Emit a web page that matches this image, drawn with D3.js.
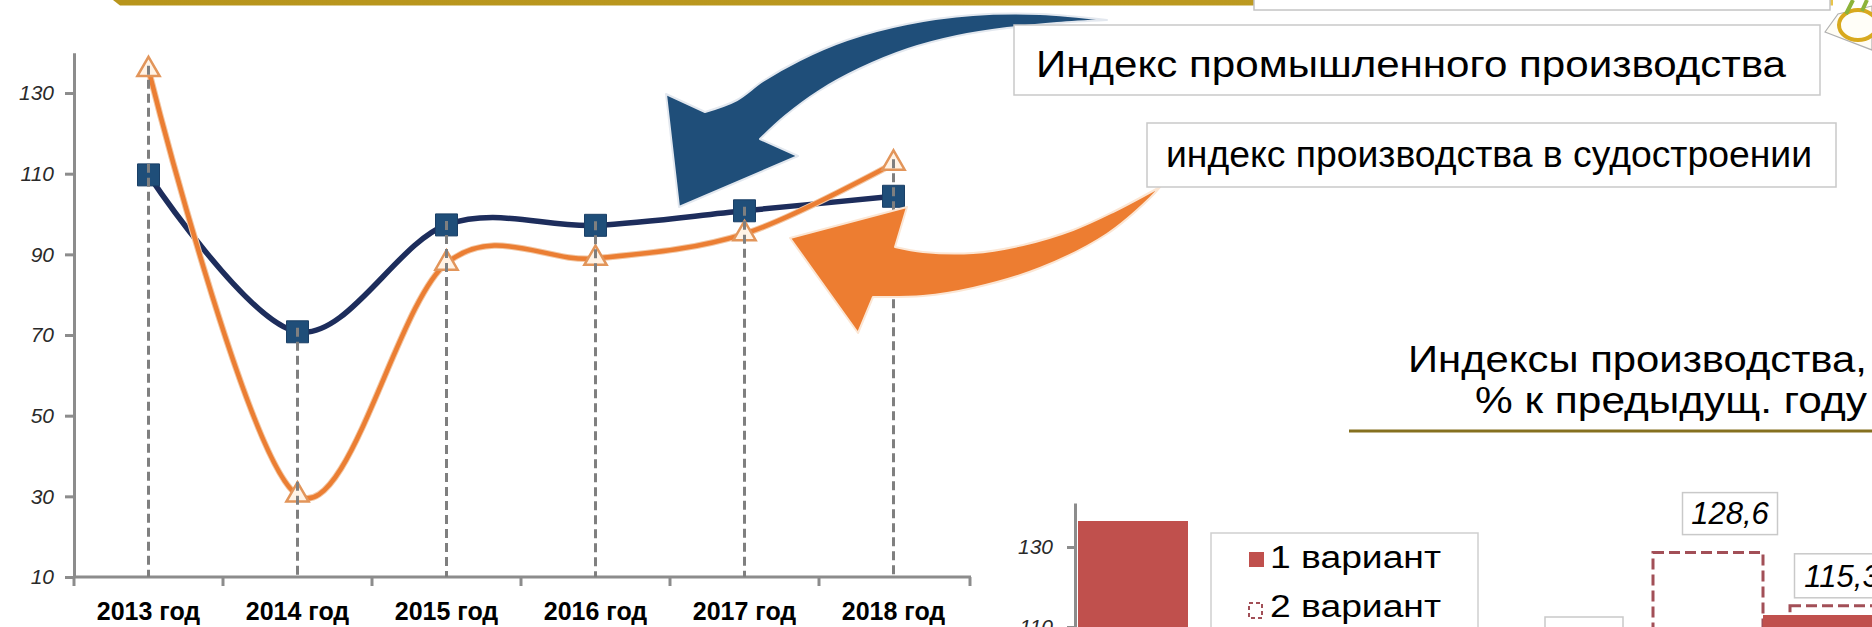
<!DOCTYPE html>
<html><head><meta charset="utf-8">
<script src="https://cdn.jsdelivr.net/npm/d3@7"></script>
<style>html,body{margin:0;padding:0;background:#fff;overflow:hidden}</style>
</head><body>
<svg id="c" width="1872" height="627" xmlns="http://www.w3.org/2000/svg"></svg>
<script>
// ---------- data ----------
const years = ["2013 год", "2014 год", "2015 год", "2016 год", "2017 год", "2018 год"];
const industrialIndex = [109.7, 70.8, 97.3, 97.2, 100.8, 104.4];
const shipbuildingIndex = [135.8, 30.3, 87.8, 89.0, 95.1, 112.6];
const leftTicks = [10, 30, 50, 70, 90, 110, 130];
const seriesNames = ["Индекс  промышленного  производства", "индекс производства в судостроении"];

const barCategories = ["2013", "2014", "2015", "2016", "2017", "2018"];
const variant1 = [136.5, null, null, null, null, 113.0];
const variant2 = [null, null, null, null, 128.6, 115.3];
const barTicks = [110, 130];
const legendNames = ["1 вариант", "2 вариант"];
const barTitle = ["Индексы  производства,", "% к предыдущ.  году"];

// ---------- setup ----------
const FONT = "'Liberation Sans', Arial, sans-serif";
const svg = d3.select("#c").style("font-family", FONT);
const defs = svg.append("defs");
const gg = defs.append("linearGradient").attr("id", "gold").attr("x1", "0").attr("x2", "1");
gg.append("stop").attr("offset", "0").attr("stop-color", "#B8951C");
gg.append("stop").attr("offset", "0.93").attr("stop-color", "#BE9B22");
gg.append("stop").attr("offset", "1").attr("stop-color", "#E9C54A");

// top decoration
svg.append("path").attr("d", "M113,0L1833,0L1833,5.5L120,5.5Z").attr("fill", "url(#gold)");
svg.append("rect").attr("x", 1254).attr("y", -10).attr("width", 576).attr("height", 20)
  .attr("fill", "#fff").attr("stroke", "#c4c4c4").attr("stroke-width", 1.5);
svg.append("path").attr("d", "M1825,32L1838,14L1872,6L1872,50Z").attr("fill", "#fffdf5").attr("stroke", "#b0b0b0").attr("stroke-width", 1.2);
svg.append("ellipse").attr("cx", 1858).attr("cy", 25).attr("rx", 19).attr("ry", 15)
  .attr("fill", "#fffef8").attr("stroke", "#D8A91E").attr("stroke-width", 4);
svg.append("path").attr("d", "M1846,14L1853,0M1862,11L1867,0").attr("stroke", "#8DB33A").attr("stroke-width", 4).attr("fill", "none");

// ---------- left line chart ----------
const x = d3.scaleBand().domain(years).range([74, 968]).padding(0);
const y = d3.scaleLinear().domain([10, 140]).range([577, 52.7]);
const cx = d => x(d) + x.bandwidth() / 2;
const AXC = "#8c8c8c";

const yAx = svg.append("g").attr("transform", "translate(74,0)")
  .call(d3.axisLeft(y).tickValues(leftTicks).tickSize(9).tickSizeOuter(0).tickPadding(11));
yAx.select(".domain").attr("stroke", AXC).attr("stroke-width", 3);
yAx.selectAll(".tick line").attr("stroke", AXC).attr("stroke-width", 3);
yAx.selectAll(".tick text").attr("font-family", FONT).attr("font-size", 21).attr("font-style", "italic")
  .attr("fill", "#2a2a2a").attr("font-weight", 300);

const xAx = svg.append("g").attr("transform", "translate(0,577)")
  .call(d3.axisBottom(x).tickSize(0).tickSizeOuter(0).tickPadding(25));
xAx.select(".domain").attr("stroke", AXC).attr("stroke-width", 3).attr("d", "M74,0H971");
xAx.selectAll(".tick text").attr("font-family", FONT).attr("font-size", 25).attr("font-weight", "bold").attr("fill", "#000");
const bounds = years.map(d => x(d)).concat([970]);
svg.append("g").selectAll("line").data(bounds).join("line")
  .attr("x1", d => d).attr("x2", d => d).attr("y1", 577).attr("y2", 586)
  .attr("stroke", AXC).attr("stroke-width", 3);

const line = d3.line().x((d, i) => cx(years[i])).y(d => y(d)).curve(d3.curveCardinal.tension(0));
svg.append("path").attr("d", line(industrialIndex)).attr("fill", "none")
  .attr("stroke", "#1D2D5C").attr("stroke-width", 5.5).attr("stroke-linejoin", "round");
svg.append("path").attr("d", line(shipbuildingIndex)).attr("fill", "none")
  .attr("stroke", "#F2C7A4").attr("stroke-width", 6.5).attr("stroke-linejoin", "round");
svg.append("path").attr("d", line(shipbuildingIndex)).attr("fill", "none")
  .attr("stroke", "#EB7E33").attr("stroke-width", 4.5).attr("stroke-linejoin", "round");

svg.append("g").selectAll("path").data(industrialIndex).join("path")
  .attr("d", d3.symbol(d3.symbolSquare, 484))
  .attr("transform", (d, i) => `translate(${cx(years[i])},${y(d)})`)
  .attr("fill", "#1F4E79").attr("stroke", "#1a3f66").attr("stroke-width", 1);
svg.append("g").selectAll("path").data(shipbuildingIndex).join("path")
  .attr("d", d3.symbol(d3.symbolTriangle, 215))
  .attr("transform", (d, i) => `translate(${cx(years[i])},${y(d)})`)
  .attr("fill", "#FFF3E6").attr("stroke", "#E2955A").attr("stroke-width", 2.5);

// drop lines
svg.append("g").selectAll("line").data(years).join("line")
  .attr("x1", d => cx(d)).attr("x2", d => cx(d))
  .attr("y1", (d, i) => y(Math.max(industrialIndex[i], shipbuildingIndex[i])) - 4)
  .attr("y2", 577)
  .attr("stroke", "#7f7f7f").attr("stroke-width", 3).attr("stroke-dasharray", "9,5");

// ---------- arrows ----------
const smooth = (pts, first) => {
  const s = d3.line().curve(d3.curveCatmullRom.alpha(0.5))(pts);
  return first ? s : s.replace(/^M/, "L");
};
const blueOuter = [[1107,20],[1040,14],[973,15],[907,24],[847,40],[800,60],[763,81],[737,100],[705,112]];
const blueHead = [[666,94],[679,207],[798,156],[760,139]];
const blueInner = [[760,139],[785,116],[819,91],[859,69],[908,49],[957,36],[1007,28],[1057,23],[1107,20]];
svg.append("path")
  .attr("d", smooth(blueOuter, true) + blueHead.map(p => "L" + p).join("") + smooth(blueInner, false) + "Z")
  .attr("fill", "#1F4E79").attr("stroke", "#e3e8ef").attr("stroke-width", 2).attr("stroke-linejoin", "round");

const orUpper = [[1160,187],[1113,212],[1073,230],[1023,245],[973,253],[923,252],[895,247]];
const orHead = [[907,207],[790,238],[858,333],[873,297]];
const orLower = [[873,297],[923,296],[973,288],[1040,268],[1107,234],[1150,198],[1160,187]];
svg.append("path")
  .attr("d", smooth(orUpper, true) + orHead.map(p => "L" + p).join("") + smooth(orLower, false) + "Z")
  .attr("fill", "#ED7D31").attr("stroke", "#fbe6d4").attr("stroke-width", 2).attr("stroke-linejoin", "round");

// series label boxes
const boxes = [
  {x: 1014, y: 25, w: 806, h: 70, tx: 1036, ty: 77, tl: 750},
  {x: 1147, y: 123, w: 689, h: 64, tx: 1166, ty: 167, tl: 646}
];
boxes.forEach((b, i) => {
  svg.append("rect").attr("x", b.x).attr("y", b.y).attr("width", b.w).attr("height", b.h)
    .attr("fill", "#fff").attr("stroke", "#c9c9c9").attr("stroke-width", 1.5);
  svg.append("text").attr("x", b.tx).attr("y", b.ty).text(seriesNames[i])
    .attr("font-size", 37).attr("fill", "#000").attr("textLength", b.tl).attr("lengthAdjust", "spacingAndGlyphs");
});

// ---------- right bar chart ----------
svg.append("text").attr("x", 1408).attr("y", 372).text(barTitle[0])
  .attr("font-size", 37).attr("textLength", 459).attr("lengthAdjust", "spacingAndGlyphs");
svg.append("text").attr("x", 1475).attr("y", 413).text(barTitle[1])
  .attr("font-size", 37).attr("textLength", 392).attr("lengthAdjust", "spacingAndGlyphs");
svg.append("line").attr("x1", 1349).attr("x2", 1872).attr("y1", 431).attr("y2", 431)
  .attr("stroke", "#85701F").attr("stroke-width", 3);

const xb = d3.scaleBand().domain(barCategories).range([1078, 1900]);
const yb = d3.scaleLinear().domain([104, 141]).range([651, 503]);
const BW = 110, DOFF = 27;

const bAx = svg.append("g").attr("transform", "translate(1075,0)")
  .call(d3.axisLeft(yb).tickValues(barTicks).tickSize(8).tickSizeOuter(0).tickPadding(14));
bAx.select(".domain").attr("stroke", AXC).attr("stroke-width", 3);
bAx.selectAll(".tick line").attr("stroke", AXC).attr("stroke-width", 3);
bAx.selectAll(".tick text").attr("font-family", FONT).attr("font-size", 21).attr("font-style", "italic").attr("fill", "#2a2a2a");

const d2 = barCategories.map((c, i) => ({c, v: variant2[i]})).filter(d => d.v != null);
const d1 = barCategories.map((c, i) => ({c, v: variant1[i]})).filter(d => d.v != null);
svg.append("g").selectAll("rect").data(d2).join("rect")
  .attr("x", d => xb(d.c) + DOFF).attr("y", d => yb(d.v)).attr("width", BW).attr("height", d => yb(104) - yb(d.v))
  .attr("fill", "none").attr("stroke", "#A24F57").attr("stroke-width", 3).attr("stroke-dasharray", "11,5");
svg.append("g").selectAll("rect").data(d1).join("rect")
  .attr("x", d => xb(d.c)).attr("y", d => yb(d.v)).attr("width", BW).attr("height", d => yb(104) - yb(d.v))
  .attr("fill", "#C0504D");

// value labels (2 вариант)
const labelNudge = [{dx: 22, gap: 18, w: 95, h: 42}, {dx: -3, gap: 8, w: 95, h: 44}];
d2.forEach((d, i) => {
  const n = labelNudge[i];
  const lx = xb(d.c) + DOFF + BW / 2 + n.dx;
  const top = yb(d.v) - n.gap - n.h;
  svg.append("rect").attr("x", lx - n.w / 2).attr("y", top).attr("width", n.w).attr("height", n.h)
    .attr("fill", "#fff").attr("stroke", "#c9c9c9").attr("stroke-width", 1.5);
  svg.append("text").attr("x", lx).attr("y", top + n.h - 11).attr("text-anchor", "middle")
    .attr("font-size", 31).attr("font-style", "italic").attr("fill", "#000")
    .text(d3.format(".1f")(d.v).replace(".", ","));
});
// partially visible label box of a hidden bar
svg.append("rect").attr("x", xb("2016") + DOFF + 29).attr("y", 617).attr("width", 78).attr("height", 40)
  .attr("fill", "#fff").attr("stroke", "#c9c9c9").attr("stroke-width", 1.5);

// legend
svg.append("rect").attr("x", 1211).attr("y", 533).attr("width", 267).attr("height", 120)
  .attr("fill", "#fff").attr("stroke", "#cfcfcf").attr("stroke-width", 1.5);
svg.append("rect").attr("x", 1249).attr("y", 552).attr("width", 15).attr("height", 15).attr("fill", "#C0504D");
svg.append("rect").attr("x", 1249).attr("y", 603).attr("width", 13).attr("height", 15)
  .attr("fill", "none").attr("stroke", "#A24F57").attr("stroke-width", 2).attr("stroke-dasharray", "4,3");
legendNames.forEach((t, i) => {
  svg.append("text").attr("x", 1270).attr("y", 568 + i * 49).text(t)
    .attr("font-size", 31).attr("fill", "#000").attr("textLength", 171).attr("lengthAdjust", "spacingAndGlyphs");
});
</script></body></html>
